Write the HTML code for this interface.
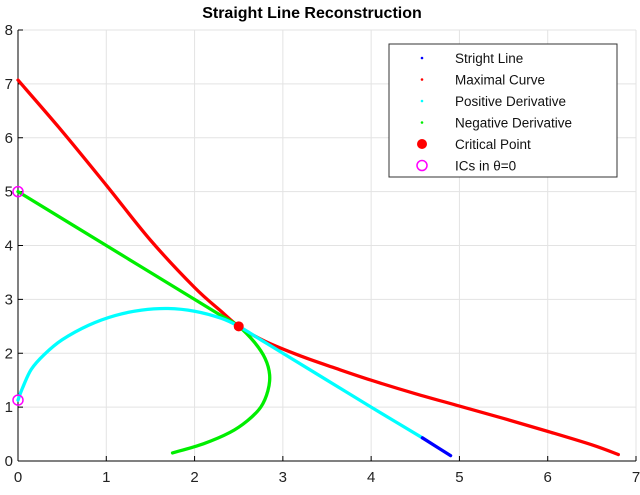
<!DOCTYPE html>
<html><head><meta charset="utf-8"><style>
body{margin:0;background:#fff}
svg text{font-family:"Liberation Sans",sans-serif}
</style></head><body>
<svg id="chart" width="640" height="490" xmlns="http://www.w3.org/2000/svg">
<text x="312" y="18" text-anchor="middle" font-size="16" font-weight="bold">Straight Line Reconstruction</text>
<g id="grid"></g>
<g id="axes"></g>
<g id="series"></g>
<g id="legend"></g>
</svg>
<script>
const xTicks=[0,1,2,3,4,5,6,7];
const yTicks=[0,1,2,3,4,5,6,7,8];
const redX=[0,0.5,1,1.5,2,2.3,2.5,2.8,3.2,3.6,4,4.5,5,5.5,6,6.5,6.8];
const redY=[7.07,6.12,5.12,4.1,3.22,2.78,2.5,2.22,1.95,1.72,1.5,1.25,1.02,0.79,0.55,0.3,0.12];
const greenX=[0,1,2,2.3,2.5,2.68,2.8,2.85,2.83,2.75,2.6,2.4,2.1,1.75];
const greenY=[5,4,3,2.7,2.5,2.2,1.9,1.6,1.3,1.0,0.75,0.53,0.32,0.15];
const cyanX=[0,0.05,0.15,0.3,0.5,0.8,1.1,1.4,1.7,2,2.3,2.5,2.75,3,3.5,4,4.58];
const cyanY=[1.13,1.35,1.7,1.98,2.25,2.52,2.7,2.8,2.83,2.78,2.65,2.5,2.25,2.0,1.5,1.0,0.43];
const blueX=[4.58,4.9];
const blueY=[0.43,0.1];
const critX=[2.5], critY=[2.5];
const icX=[0,0], icY=[5,1.13];
const legendLabels=["Stright Line","Maximal Curve","Positive Derivative","Negative Derivative","Critical Point","ICs in θ=0"];

const NS="http://www.w3.org/2000/svg";
const X0=18,X1=636,Y0=461,Y1=30;
const sx=v=>X0+(X1-X0)*v/7, sy=v=>Y0-(Y0-Y1)*v/8;
function mk(t,a,p){const e=document.createElementNS(NS,t);for(const k in a)e.setAttribute(k,a[k]);p.appendChild(e);return e;}
const grid=document.getElementById('grid'),axes=document.getElementById('axes'),ser=document.getElementById('series'),leg=document.getElementById('legend');
xTicks.forEach(v=>{
 const l=mk('line',{x1:sx(v),x2:sx(v),y1:Y1,y2:Y0,stroke:'#e3e3e3'},grid);
 
 
 const tk=mk('line',{x1:sx(v),x2:sx(v),y1:Y0,y2:Y0-5,stroke:'#000'},axes);
 
 
 const t=mk('text',{x:sx(v),y:Y0+21,'text-anchor':'middle','font-size':15,fill:'#222'},axes);t.textContent=v;
 
 
});
yTicks.forEach(v=>{
 const l=mk('line',{x1:X0,x2:X1,y1:sy(v),y2:sy(v),stroke:'#e3e3e3'},grid);
 
 
 const tk=mk('line',{x1:X0,x2:X0+5,y1:sy(v),y2:sy(v),stroke:'#000'},axes);
 
 
 const t=mk('text',{x:X0-5,y:sy(v)+5,'text-anchor':'end','font-size':15,fill:'#222'},axes);t.textContent=v;
 
 
});
const xa=mk('line',{x1:X0,x2:X1,y1:Y0,y2:Y0,stroke:'#000'},axes);


const ya=mk('line',{x1:X0,x2:X0,y1:Y0,y2:Y1,stroke:'#000'},axes);


function smooth(xs,ys){
 const P=xs.map((x,i)=>[sx(x),sy(ys[i])]);
 let d='M'+P[0][0]+','+P[0][1];
 for(let i=0;i<P.length-1;i++){
  const p0=P[i-1]||P[i],p1=P[i],p2=P[i+1],p3=P[i+2]||P[i+1];
  const c1=[p1[0]+(p2[0]-p0[0])/6,p1[1]+(p2[1]-p0[1])/6];
  const c2=[p2[0]-(p3[0]-p1[0])/6,p2[1]-(p3[1]-p1[1])/6];
  d+=' C'+c1[0]+','+c1[1]+' '+c2[0]+','+c2[1]+' '+p2[0]+','+p2[1];
 }
 return d;
}
function line(xs,ys,c,name){
 const p=mk('path',{d:smooth(xs,ys),fill:'none',stroke:c,'stroke-width':3.3,'stroke-linejoin':'round','stroke-linecap':'round'},ser);
 
 
}
line(redX,redY,'#ff0000','maximal-curve');
line(greenX,greenY,'#00ee00','negative-derivative');
line(cyanX,cyanY,'#00ffff','positive-derivative');
line(blueX,blueY,'#0000ff','straight-line');
critX.forEach((x,i)=>{const c=mk('circle',{cx:sx(x),cy:sy(critY[i]),r:5,fill:'#ff0000'},ser);
 
 });
icX.forEach((x,i)=>{const c=mk('circle',{cx:sx(x),cy:sy(icY[i]),r:5,fill:'none',stroke:'#ff00ff','stroke-width':1.5},ser);
 
 });
const box=mk('rect',{x:389,y:44,width:228,height:133,fill:'#fff',stroke:'#333'},leg);


const cols=['#0000ff','#ff0000','#00ffff','#00ee00'];
legendLabels.forEach((s,i)=>{
 const y=58+i*21.5;
 let m;
 if(i<4)m=mk('circle',{cx:422,cy:y,r:1.3,fill:cols[i]},leg);
 else if(i==4)m=mk('circle',{cx:422,cy:y,r:5,fill:'#ff0000'},leg);
 else m=mk('circle',{cx:422,cy:y,r:5,fill:'none',stroke:'#ff00ff','stroke-width':1.5},leg);
 
 
 const t=mk('text',{x:455,y:y+5,'font-size':13.5,fill:'#111'},leg);t.textContent=s;
 
 
});
</script>
</body></html>
